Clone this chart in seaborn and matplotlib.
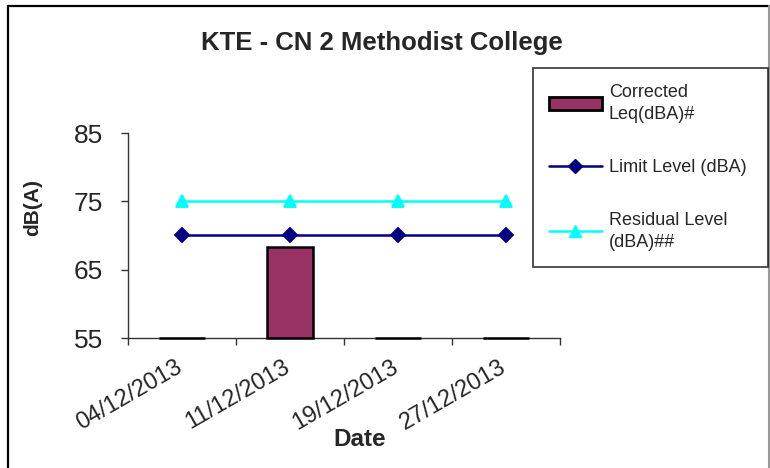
import numpy as np
import pandas as pd
import matplotlib
matplotlib.use("Agg")
import matplotlib.pyplot as plt
import matplotlib.transforms as mtransforms
import seaborn as sns
from matplotlib.patches import Patch
from matplotlib.lines import Line2D

# data
dates = ["04/12/2013", "11/12/2013", "19/12/2013", "27/12/2013"]
leq = [0, 68.3, 0, 0]          # corrected Leq, only one measurement
limit = [70, 70, 70, 70]
residual = [75, 75, 75, 75]
y_ticks = [55, 65, 75, 85]

bar_col = "#993366"
limit_col = "#000080"
resid_col = "#00FFFF"

sns.set_theme(style="white")
plt.rcParams["font.family"] = ["Liberation Sans", "DejaVu Sans"]

df = pd.DataFrame({"Date": dates, "Leq": leq, "Limit": limit, "Residual": residual})

W, H = 770, 468
fig = plt.figure(figsize=(7.7, 4.68), dpi=100)
ax = fig.add_axes([128 / W, 1 - 338 / H, 432 / W, 205 / H])

sns.barplot(data=df, x="Date", y="Leq", color=bar_col, saturation=1,
            width=0.42, edgecolor="black", linewidth=1.8, ax=ax)

ymin, ymax = y_ticks[0], y_ticks[-1]
# Excel draws bars up from the axis floor, so start them at 55
for p in ax.patches:
    h = p.get_height()
    p.set_y(ymin)
    p.set_height(max(h - ymin, 0))
    p.set_clip_on(False)
    p.set_zorder(3)

sns.pointplot(data=df, x="Date", y="Limit", color=limit_col, marker="D",
              markersize=7, linewidth=1.8, errorbar=None, ax=ax)
sns.pointplot(data=df, x="Date", y="Residual", color=resid_col, marker="^",
              markersize=9, linewidth=1.8, errorbar=None, ax=ax)

ax.set_ylim(ymin, ymax)
ax.set_xlim(-0.5, len(dates) - 0.5)
ax.set_yticks(y_ticks)
ax.set_xticks(range(len(dates)))
ax.set_xticks(np.arange(-0.5, len(dates)), minor=True)
ax.set_xticklabels(dates, rotation=30, ha="right", rotation_mode="anchor", fontsize=17)
ax.tick_params(axis="x", which="major", length=0, pad=13)
ax.tick_params(axis="x", which="minor", length=5, width=1, color="#333333", direction="out", bottom=True)
ax.tick_params(axis="y", length=5, width=1, color="#333333", direction="out", left=True, labelsize=19, pad=13)
ax.set_xlabel("")
ax.set_ylabel("")
for s in ["top", "right"]:
    ax.spines[s].set_visible(False)
for s in ["left", "bottom"]:
    ax.spines[s].set_color("#333333")
    ax.spines[s].set_linewidth(1)

# nudge the slanted date labels a little left, as in the original
shift = mtransforms.ScaledTranslation(-7 / 100, 0, fig.dpi_scale_trans)
for lab in ax.get_xticklabels():
    lab.set_transform(lab.get_transform() + shift)

fig.text(382 / W, 1 - 43 / H, "KTE - CN 2 Methodist College", ha="center", va="center",
         fontsize=18.5, fontweight="bold")
fig.text(33 / W, 1 - 208 / H, "dB(A)", rotation=90, ha="center", va="center",
         fontsize=15, fontweight="bold")
fig.text(360 / W, 1 - 440 / H, "Date", ha="center", va="center",
         fontsize=17.5, fontweight="bold")

handles = [
    Patch(facecolor=bar_col, edgecolor="black", linewidth=2),
    Line2D([], [], color=limit_col, marker="D", markersize=7, linewidth=1.8),
    Line2D([], [], color=resid_col, marker="^", markersize=9, linewidth=1.8),
]
labels = ["Corrected\nLeq(dBA)#", "Limit Level (dBA)", "Residual Level\n(dBA)##"]
leg = fig.legend(handles, labels, loc="upper left",
                 bbox_to_anchor=(533 / W, 1 - 268 / H, 235 / W, 200 / H),
                 mode="expand", borderaxespad=0, fontsize=13, frameon=True,
                 fancybox=False, edgecolor="black", handlelength=2.9,
                 handletextpad=0.4, labelspacing=2.0, borderpad=0.9)
leg.get_frame().set_linewidth(1.2)
for t in leg.get_texts():
    t.set_linespacing(1.35)

# outer chart border: top/left dark, right grey, none at the bottom
fig.add_artist(Line2D([8 / W, 8 / W], [0, 1 - 6 / H], transform=fig.transFigure, color="black", lw=1.6))
fig.add_artist(Line2D([8 / W, 769 / W], [1 - 6 / H, 1 - 6 / H], transform=fig.transFigure, color="black", lw=1.6))
fig.add_artist(Line2D([769 / W, 769 / W], [0, 1 - 6 / H], transform=fig.transFigure, color="#999999", lw=1.5))

fig.savefig("out.png", dpi=100)
